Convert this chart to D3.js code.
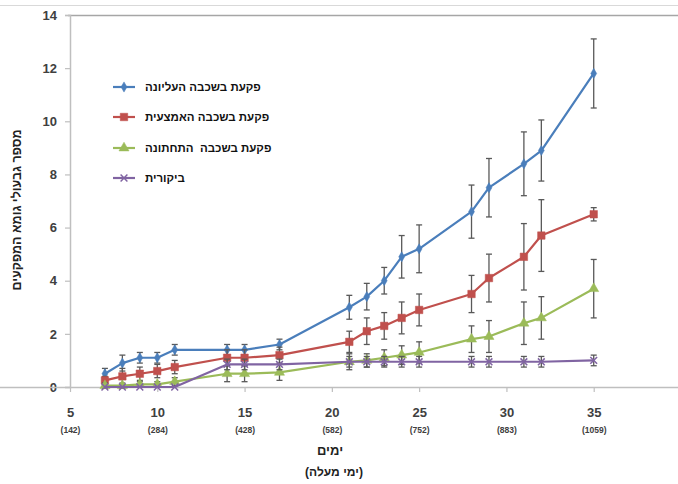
<!DOCTYPE html>
<html>
<head>
<meta charset="utf-8">
<script src="https://cdn.jsdelivr.net/npm/d3@7"></script>
<style>
  html, body { margin: 0; padding: 0; background: #fff; }
  svg { display: block; }
  text { font-family: "Liberation Sans", Arial, sans-serif; }
</style>
</head>
<body>
<svg id="chart" width="678" height="484"></svg>
<script>
// Days of measurement and the matching cumulative degree-days
const days = [7, 8, 9, 10, 11, 14, 15, 17, 21, 22, 23, 24, 25, 28, 29, 31, 32, 35];
const xTicks = [5, 10, 15, 20, 25, 30, 35];
const degreeDays = ["(142)", "(284)", "(428)", "(582)", "(752)", "(883)", "(1059)"];
const yTicks = [0, 2, 4, 6, 8, 10, 12, 14];

// Number of emerged sedge shoots per tuber depth (mean and error)
const upper      = [0.5, 0.9, 1.1, 1.1, 1.4, 1.4, 1.4, 1.6, 3.0, 3.4, 4.0, 4.9, 5.2, 6.6, 7.5, 8.4, 8.9, 11.8];
const upperErr   = [0.2, 0.3, 0.2, 0.2, 0.2, 0.2, 0.2, 0.2, 0.45, 0.5, 0.5, 0.8, 0.9, 1.0, 1.1, 1.2, 1.15, 1.3];
const middle     = [0.25, 0.4, 0.5, 0.6, 0.75, 1.1, 1.1, 1.2, 1.7, 2.1, 2.3, 2.6, 2.9, 3.5, 4.1, 4.9, 5.7, 6.5];
const middleErr  = [0.15, 0.3, 0.25, 0.25, 0.25, 0.3, 0.3, 0.3, 0.4, 0.5, 0.5, 0.6, 0.6, 0.7, 0.9, 1.25, 1.35, 0.25];
const lower      = [0.05, 0.05, 0.1, 0.1, 0.2, 0.5, 0.5, 0.55, 0.95, 1.0, 1.1, 1.2, 1.3, 1.8, 1.9, 2.4, 2.6, 3.7];
const lowerErr   = [0.1, 0.1, 0.1, 0.1, 0.15, 0.3, 0.3, 0.3, 0.3, 0.25, 0.3, 0.35, 0.4, 0.5, 0.6, 0.8, 0.8, 1.1];
const control    = [0, 0, 0, 0, 0, 0.85, 0.85, 0.85, 0.95, 0.95, 0.95, 0.95, 0.95, 0.95, 0.95, 0.95, 0.95, 1.0];
const controlErr = [0, 0, 0, 0, 0, 0.2, 0.2, 0.2, 0.2, 0.2, 0.2, 0.2, 0.2, 0.2, 0.2, 0.2, 0.2, 0.2];

const seriesNames = ["פקעת בשכבה העליונה", "פקעת בשכבה האמצעית", "פקעת בשכבה  התחתונה", "ביקורית"];
const seriesColors = ["#4a7ebb", "#c0504d", "#9bbb59", "#8064a2"];
const seriesMarkers = [d3.symbolDiamond, d3.symbolSquare, d3.symbolTriangle, d3.symbolX];
const markerSizes = [30, 56, 44, 32];
const seriesValues = [upper, middle, lower, control];
const seriesErrors = [upperErr, middleErr, lowerErr, controlErr];

const yTitle = "מספר גבעולי גומא המפקעים";
const xTitle = "ימים";
const xSubTitle = "(ימי מעלה)";

const svg = d3.select("#chart");
const x = d3.scaleLinear().domain([5, 40]).range([70, 681]);
const y = d3.scaleLinear().domain([0, 14]).range([387, 15]);

// outer frame line and plot-area top border
svg.append("line").attr("x1", 0).attr("x2", 678).attr("y1", 5.5).attr("y2", 5.5)
  .attr("stroke", "#d9d9d9").attr("stroke-width", 1);
svg.append("line").attr("x1", 68).attr("x2", 678).attr("y1", 15.5).attr("y2", 15.5)
  .attr("stroke", "#a6a6a6").attr("stroke-width", 1.5);

// y axis
const yAxis = svg.append("g").attr("transform", "translate(70,0)")
  .call(d3.axisLeft(y).tickValues(yTicks).tickSize(5).tickPadding(8).tickFormat(d3.format("d")));
yAxis.select(".domain").attr("stroke", "#bfbfbf").attr("stroke-width", 1.5);
yAxis.selectAll(".tick line").attr("stroke", "#bfbfbf").attr("stroke-width", 1.2);
yAxis.selectAll(".tick text").attr("fill", "#404040").attr("font-size", 13).attr("font-weight", "bold")
  .attr("font-family", "'Liberation Sans', Arial, sans-serif");

// x axis
const xAxis = svg.append("g").attr("transform", "translate(0,387)")
  .call(d3.axisBottom(x).tickValues(xTicks).tickSize(5).tickPadding(16).tickSizeOuter(0).tickFormat(d3.format("d")));
xAxis.select(".domain").attr("stroke", "#bfbfbf").attr("stroke-width", 1.5).attr("d", "M-5,0.5H678");
xAxis.selectAll(".tick line").attr("stroke", "#bfbfbf").attr("stroke-width", 1.2);
xAxis.selectAll(".tick text").attr("fill", "#404040").attr("font-size", 13).attr("font-weight", "bold")
  .attr("font-family", "'Liberation Sans', Arial, sans-serif");
xAxis.selectAll(".tick").append("text")
  .attr("y", 46).attr("text-anchor", "middle").attr("fill", "#404040")
  .attr("font-size", 8.5).attr("font-weight", "bold")
  .attr("font-family", "'Liberation Sans', Arial, sans-serif")
  .text((d, i) => degreeDays[i]);

// axis titles
svg.append("text").attr("x", 330).attr("y", 455).attr("text-anchor", "middle")
  .attr("direction", "rtl").attr("font-size", 13).attr("font-weight", "bold").attr("fill", "#222")
  .text(xTitle);
svg.append("text").attr("x", 334).attr("y", 476).attr("text-anchor", "middle")
  .attr("direction", "rtl").attr("font-size", 12).attr("font-weight", "bold").attr("fill", "#222")
  .text(xSubTitle);
svg.append("text").attr("transform", "translate(21,210) rotate(-90)").attr("text-anchor", "middle")
  .attr("direction", "rtl").attr("font-size", 12.5).attr("font-weight", "bold").attr("fill", "#222")
  .text(yTitle);

// series: error bars, lines, markers
const line = d3.line().x(d => x(d[0])).y(d => y(d[1]));
seriesValues.forEach((vals, s) => {
  const pts = days.map((d, i) => [d, vals[i], seriesErrors[s][i]]);
  const g = svg.append("g");
  const eb = g.append("g").selectAll("g").data(pts.filter(p => p[2] > 0)).join("g");
  eb.append("line").attr("x1", p => x(p[0])).attr("x2", p => x(p[0]))
    .attr("y1", p => y(p[1] + p[2])).attr("y2", p => y(p[1] - p[2]))
    .attr("stroke", "#595959").attr("stroke-width", 1.3);
  [1, -1].forEach(sg => {
    eb.append("line").attr("x1", p => x(p[0]) - 3).attr("x2", p => x(p[0]) + 3)
      .attr("y1", p => y(p[1] + sg * p[2])).attr("y2", p => y(p[1] + sg * p[2]))
      .attr("stroke", "#595959").attr("stroke-width", 1.3);
  });
  g.append("path").datum(pts).attr("d", line).attr("fill", "none")
    .attr("stroke", seriesColors[s]).attr("stroke-width", 2.2).attr("stroke-linejoin", "round");
  g.append("g").selectAll("path").data(pts).join("path")
    .attr("transform", p => `translate(${x(p[0])},${y(p[1])})`)
    .attr("d", d3.symbol().type(seriesMarkers[s]).size(markerSizes[s]))
    .attr("fill", seriesColors[s]).attr("stroke", seriesColors[s]).attr("stroke-width", s === 3 ? 1.5 : 0.5);
});

// legend
const legendY = [87, 117, 148, 178];
const legend = svg.append("g");
seriesNames.forEach((name, s) => {
  const lg = legend.append("g").attr("transform", `translate(0,${legendY[s]})`);
  lg.append("line").attr("x1", 113).attr("x2", 135).attr("y1", 0).attr("y2", 0)
    .attr("stroke", seriesColors[s]).attr("stroke-width", 2.2);
  lg.append("path").attr("transform", "translate(124,0)")
    .attr("d", d3.symbol().type(seriesMarkers[s]).size(markerSizes[s]))
    .attr("fill", seriesColors[s]).attr("stroke", seriesColors[s]).attr("stroke-width", s === 3 ? 1.5 : 0.5);
  lg.append("text").attr("x", 145).attr("y", 4).attr("text-anchor", "end").attr("direction", "rtl")
    .style("white-space", "pre")
    .attr("font-size", 11.5).attr("font-weight", "bold").attr("fill", "#111")
    .text(name);
});
</script>
</body>
</html>
